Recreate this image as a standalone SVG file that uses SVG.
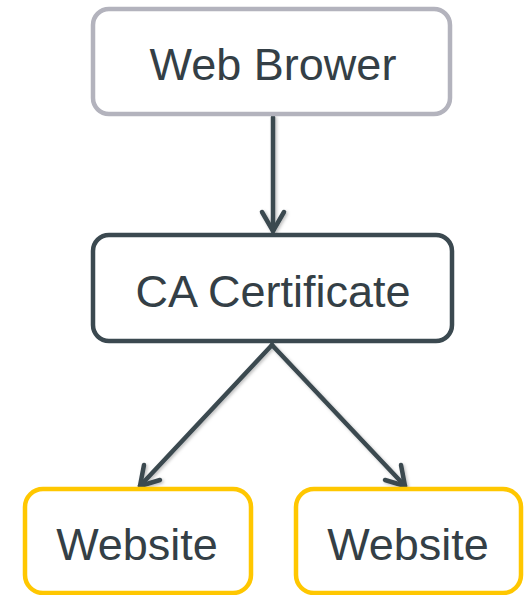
<svg xmlns="http://www.w3.org/2000/svg" width="525" height="595" viewBox="0 0 525 595">
  <defs>
    <style>
      .box { fill: #ffffff; stroke-width: 4.5; }
      .browser { stroke: #b3b3bd; }
      .ca { stroke: #3b4950; }
      .site { stroke: #ffc700; }
      .label { font-family: "Liberation Sans", Arial, sans-serif; font-size: 45px; fill: #343f46; text-anchor: middle; }
      .edge { fill: none; stroke: #3b4950; stroke-width: 4.5; stroke-linecap: round; stroke-linejoin: round; }
    </style>
    <filter id="soft" x="-20%" y="-20%" width="140%" height="140%">
      <feDropShadow dx="1.5" dy="1.5" stdDeviation="1.5" flood-color="#000000" flood-opacity="0.25"/>
    </filter>
  </defs>

  <g id="connectors" filter="url(#soft)">
    <!-- browser to CA -->
    <path class="edge" d="M273 117 V231"/>
    <path class="edge" d="M262 212 L273 231 L284 212"/>
    <!-- CA to left website -->
    <path class="edge" d="M272 345 L140 486"/>
    <path class="edge" d="M144 465 L140 486 L160 480"/>
    <!-- CA to right website -->
    <path class="edge" d="M272 345 L405 486"/>
    <path class="edge" d="M385 480 L405 486 L401 465"/>
  </g>

  <g id="web-browser">
    <rect class="box browser" x="93" y="9" width="357" height="105" rx="16"/>
    <text class="label" x="273" y="80">Web Brower</text>
  </g>

  <g id="ca-certificate">
    <rect class="box ca" x="93" y="235" width="359" height="106" rx="16"/>
    <text class="label" x="273" y="307">CA Certificate</text>
  </g>

  <g id="website-left">
    <rect class="box site" x="25" y="489" width="226" height="104" rx="18"/>
    <text class="label" x="137" y="560">Website</text>
  </g>

  <g id="website-right">
    <rect class="box site" x="296" y="489" width="225" height="104" rx="18"/>
    <text class="label" x="408" y="560">Website</text>
  </g>
</svg>
